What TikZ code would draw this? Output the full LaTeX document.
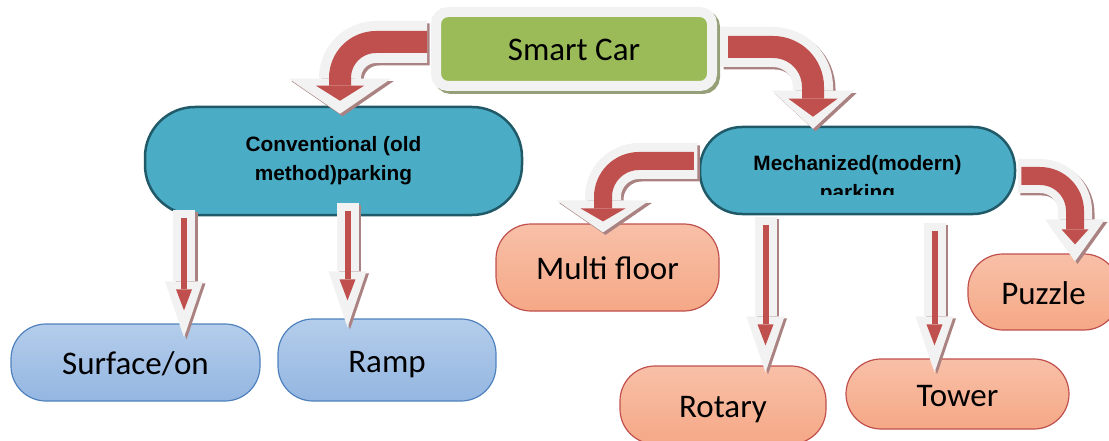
\documentclass[tikz,border=0pt]{standalone}
\usepackage{fontspec}
\setmainfont{Carlito}
\newfontfamily\parkfont{Liberation Sans}
\usetikzlibrary{arrows.meta,shadows}

\definecolor{smartgreen}{HTML}{9BBB59}
\definecolor{parkteal}{HTML}{4BACC6}
\definecolor{parkedge}{HTML}{205A69}
\definecolor{bluetop}{HTML}{B4CDEB}
\definecolor{bluebot}{HTML}{94B6E1}
\definecolor{blueedge}{HTML}{4F81BD}
\definecolor{peachtop}{HTML}{F8C0A8}
\definecolor{peachbot}{HTML}{F5A886}
\definecolor{peachedge}{HTML}{C0504D}
\definecolor{arrowred}{HTML}{C0504D}
\definecolor{arrowrim}{HTML}{F2F2F2}
\definecolor{arrowshade}{RGB}{170,130,130}
\definecolor{greenshade}{RGB}{150,160,120}

\tikzset{
  headtip/.style 2 args={-{Triangle[length=#1,width=#2,line width=0pt]}},
  leaf/.style={rounded corners=35pt, line width=1.2pt, inner sep=0pt,
    text height=24pt, text depth=0pt},
  bluebox/.style={leaf, draw=blueedge, top color=bluetop, bottom color=bluebot},
  peachbox/.style={leaf, draw=peachedge, top color=peachtop, bottom color=peachbot},
  smartbox/.style={fill=smartgreen, draw=arrowrim, line width=10pt,
    rounded corners=12pt, inner sep=0pt, text height=24pt, text depth=0pt,
    drop shadow={shadow xshift=3pt, shadow yshift=-3pt, fill=greenshade,
      draw=greenshade, opacity=1}},
  parkbox/.style={draw=parkedge, fill=parkteal, line width=2.5pt},
  parklabel/.style={font=\parkfont\bfseries\fontsize{20.8}{29}\selectfont,
    align=center, inner sep=0pt},
  % block arrows: shadow, light rim, red core
  bendshade/.style={draw=arrowshade, transform canvas={xshift=2.5pt,yshift=-2.5pt}},
  bendrim/.style={draw=arrowrim},
  bendcore/.style={draw=arrowred},
  dropshade/.style={draw=arrowshade, line width=22pt, headtip={56pt}{38pt},
    transform canvas={xshift=2.5pt,yshift=-2pt}},
  droprim/.style={draw=arrowrim, line width=22pt, headtip={56pt}{38pt}},
  dropcore/.style={draw=arrowred, line width=6pt, headtip={21pt}{16pt},
    shorten >=27pt, shorten <=8pt}
}

\begin{document}
\begin{tikzpicture}[x=1pt,y=-1pt,font=\fontsize{33}{40}\selectfont]
  \useasboundingbox (0,0) rectangle (1109,441);

  \node[smartbox, minimum width=276pt, minimum height=74pt] (smart) at (574,49) {Smart Car};

  \node[parkbox, parklabel, rounded corners=50pt, minimum width=377pt, minimum height=108pt]
    (conv) at (333.5,161) {Conventional (old\\method)parking};
  \node[parkbox, rounded corners=42pt, minimum width=315pt, minimum height=87pt]
    (mech) at (857.5,170.5) {};
  \begin{scope}
    \clip (mech.north west) rectangle ([yshift=21pt]mech.south east);
    \node[parklabel] (mechlabel) at ([yshift=-9.5pt]mech.center) {Mechanized(modern)\\parking};
  \end{scope}

  \node[bluebox, minimum width=249pt, minimum height=77pt] (surf) at (135.5,362.5) {Surface/on};
  \node[bluebox, minimum width=218pt, minimum height=82pt] (ramp) at (387,360) {Ramp};

  \node[peachbox, minimum width=223pt, minimum height=87pt] (multi) at (607.5,267.5) {Multi floor};
  \node[peachbox, minimum width=151pt, minimum height=76pt] (puzzle) at (1043.5,292) {Puzzle};
  \node[peachbox, minimum width=206pt, minimum height=78pt] (rotary) at (723,405) {Rotary};
  \node[peachbox, minimum width=223pt, minimum height=70pt] (tower) at (957.5,394) {Tower};

  % Smart Car to the two parking types
  \draw[bendshade, line width=42pt, rounded corners=36pt, shorten <=4pt, headtip={35pt}{102pt}]
    ([yshift=7pt]smart.west) -| ([xshift=6.5pt,yshift=-8pt]conv.north);
  \draw[bendrim, line width=42pt, rounded corners=36pt, shorten <=4pt, headtip={35pt}{102pt}]
    ([yshift=7pt]smart.west) -| ([xshift=6.5pt,yshift=-8pt]conv.north);
  \draw[bendcore, line width=22pt, rounded corners=36pt, shorten <=4pt, shorten >=13pt, headtip={15pt}{48pt}]
    ([yshift=7pt]smart.west) -| ([xshift=6.5pt,yshift=-8pt]conv.north);

  \draw[bendshade, line width=40pt, rounded corners=40pt, shorten <=4pt, headtip={38pt}{82pt}]
    ([yshift=2pt]smart.east) -| ([xshift=-44.5pt,yshift=-3pt]mech.north);
  \draw[bendrim, line width=40pt, rounded corners=40pt, shorten <=4pt, headtip={38pt}{82pt}]
    ([yshift=2pt]smart.east) -| ([xshift=-44.5pt,yshift=-3pt]mech.north);
  \draw[bendcore, line width=22pt, rounded corners=40pt, shorten <=11pt, shorten >=12pt, headtip={18pt}{49pt}]
    ([yshift=2pt]smart.east) -| ([xshift=-44.5pt,yshift=-3pt]mech.north);

  % Mechanized to its side children
  \draw[bendshade, line width=36pt, rounded corners=36pt, shorten <=1.5pt, headtip={32pt}{93pt}]
    ([yshift=9.5pt]mech.west) -| ([xshift=-4.5pt,yshift=-9pt]multi.north);
  \draw[bendrim, line width=36pt, rounded corners=36pt, shorten <=1.5pt, headtip={32pt}{93pt}]
    ([yshift=9.5pt]mech.west) -| ([xshift=-4.5pt,yshift=-9pt]multi.north);
  \draw[bendcore, line width=18pt, rounded corners=36pt, shorten <=5pt, shorten >=11pt, headtip={13pt}{45pt}]
    ([yshift=9.5pt]mech.west) -| ([xshift=-4.5pt,yshift=-9pt]multi.north);

  \draw[bendshade, line width=34pt, rounded corners=35pt, shorten <=1.5pt, headtip={42pt}{60pt}]
    ([yshift=-5.5pt]mech.east) -| ([xshift=31.5pt,yshift=-8pt]puzzle.north);
  \draw[bendrim, line width=34pt, rounded corners=35pt, shorten <=1.5pt, headtip={42pt}{60pt}]
    ([yshift=-5.5pt]mech.east) -| ([xshift=31.5pt,yshift=-8pt]puzzle.north);
  \draw[bendcore, line width=18pt, rounded corners=35pt, shorten <=5pt, shorten >=17pt, headtip={15pt}{27pt}]
    ([yshift=-5.5pt]mech.east) -| ([xshift=31.5pt,yshift=-8pt]puzzle.north);

  % Straight drops
  \foreach \src/\sx/\sy/\dst/\dx/\dy in {conv/-149.5/6/surf/48.5/-14, conv/14/13/ramp/-39.5/-9,
      mech/-92/-2/rotary/42.5/-7, mech/77/-8/tower/-23/-14} {
    \draw[dropshade] ([xshift=\sx pt,yshift=\sy pt]\src.south) -- ([xshift=\dx pt,yshift=\dy pt]\dst.north);
    \draw[droprim] ([xshift=\sx pt,yshift=\sy pt]\src.south) -- ([xshift=\dx pt,yshift=\dy pt]\dst.north);
    \draw[dropcore] ([xshift=\sx pt,yshift=\sy pt]\src.south) -- ([xshift=\dx pt,yshift=\dy pt]\dst.north);
  }

\end{tikzpicture}
\end{document}
